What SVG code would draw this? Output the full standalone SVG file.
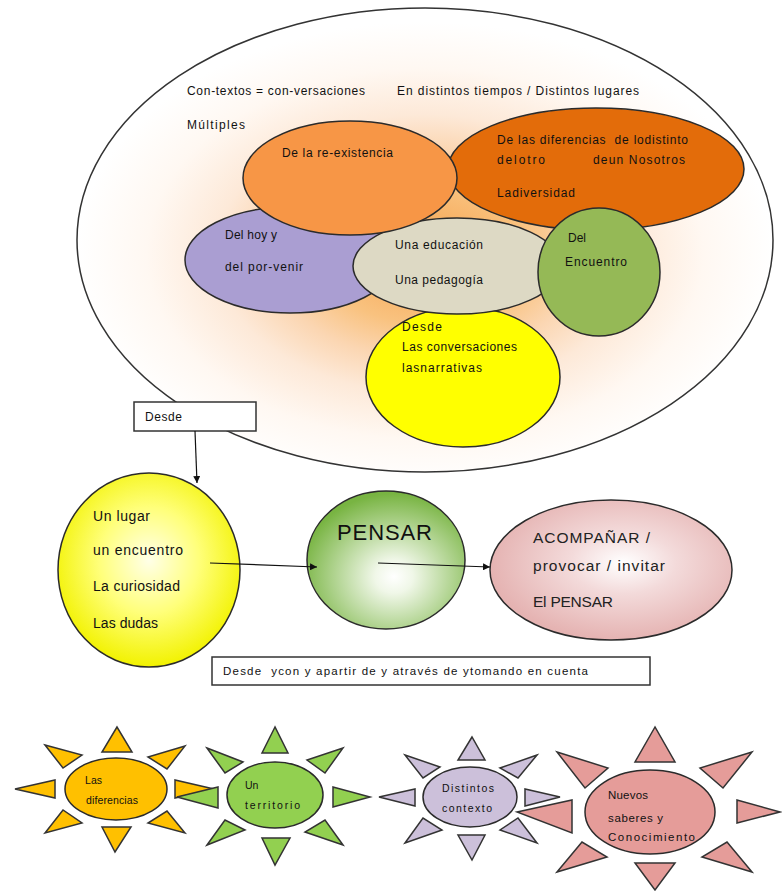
<svg xmlns="http://www.w3.org/2000/svg" width="782" height="892" viewBox="0 0 782 892">
<defs>
<style>
.t{font-family:"Liberation Sans",Arial,sans-serif;fill:#111;white-space:pre}
.s{font-size:12px}
.m{font-size:14px}
.p{font-size:15.5px;fill:#222}
.x{font-size:10.5px}
.x4{font-size:11.5px}
.node{stroke:#2b2b2b;stroke-width:1.5}
.ray{stroke:#333;stroke-width:1.5;stroke-linejoin:miter}
.box{fill:#fff;stroke:#333;stroke-width:1.5}
.conn{stroke:#111;stroke-width:1.2;fill:none;marker-end:url(#ah)}
</style>
<radialGradient id="gBig" cx="0.5" cy="0.53" r="0.5">
<stop offset="0" stop-color="#f6a04a"/>
<stop offset="0.3" stop-color="#f9c27f"/>
<stop offset="0.45" stop-color="#fbd6b2"/>
<stop offset="0.6" stop-color="#fde9d8"/>
<stop offset="0.8" stop-color="#fff8f2"/>
<stop offset="1" stop-color="#ffffff"/>
</radialGradient>
<radialGradient id="gYel" cx="0.5" cy="0.45" r="0.55">
<stop offset="0" stop-color="#ffffe8"/>
<stop offset="0.5" stop-color="#ffff7a"/>
<stop offset="1" stop-color="#f2f200"/>
</radialGradient>
<radialGradient id="gPen" cx="0.55" cy="0.62" r="0.6">
<stop offset="0" stop-color="#ffffff"/>
<stop offset="0.2" stop-color="#f0f7e8"/>
<stop offset="1" stop-color="#78b442"/>
</radialGradient>
<radialGradient id="gPink" cx="0.55" cy="0.45" r="0.55">
<stop offset="0" stop-color="#ffffff"/>
<stop offset="0.4" stop-color="#f3dada"/>
<stop offset="1" stop-color="#e5b3b2"/>
</radialGradient>
<marker id="ah" markerUnits="userSpaceOnUse" markerWidth="8" markerHeight="7" refX="7" refY="3.5" orient="auto">
<path d="M0,0 L7,3.5 L0,7 z" fill="#111"/>
</marker>
</defs>
<rect width="782" height="892" fill="#ffffff"/>

<g id="contextos">
<ellipse cx="425" cy="240" rx="348" ry="232" fill="url(#gBig)" stroke="#333" stroke-width="1.5"/>
<text class="t s" x="187" y="95" textLength="178" lengthAdjust="spacing">Con-textos = con-versaciones</text>
<text class="t s" x="397" y="95" textLength="242" lengthAdjust="spacing">En distintos tiempos / Distintos lugares</text>
<text class="t s" x="187" y="129" textLength="58" lengthAdjust="spacing">Múltiples</text>
</g>

<g id="conversaciones">
<ellipse class="node" cx="463" cy="377" rx="97" ry="70" fill="#ffff00"/>
<text class="t s" x="402" y="331" textLength="40" lengthAdjust="spacing">Desde</text>
<text class="t s" x="402" y="351" textLength="115" lengthAdjust="spacing">Las conversaciones</text>
<text class="t s" x="402" y="372" textLength="80" lengthAdjust="spacing">lasnarrativas</text>
</g>

<g id="diferencias">
<ellipse class="node" cx="596" cy="169" rx="148" ry="61" fill="#e36c0a"/>
<text class="t s" x="497" y="144" textLength="191" lengthAdjust="spacing" xml:space="preserve">De las diferencias  de lodistinto</text>
<text class="t s" x="497" y="164" textLength="48" lengthAdjust="spacing">delotro</text>
<text class="t s" x="593" y="164" textLength="92" lengthAdjust="spacing">deun Nosotros</text>
<text class="t s" x="497" y="197" textLength="78" lengthAdjust="spacing">Ladiversidad</text>
</g>

<g id="porvenir">
<ellipse class="node" cx="290" cy="260" rx="105" ry="53" fill="#aa9ed2"/>
<text class="t s" x="225" y="239" textLength="52" lengthAdjust="spacing">Del hoy y</text>
<text class="t s" x="225" y="271" textLength="78" lengthAdjust="spacing">del por-venir</text>
</g>

<g id="educacion">
<ellipse class="node" cx="457" cy="266" rx="104" ry="48" fill="#ddd9c4"/>
<text class="t s" x="395" y="249" textLength="88" lengthAdjust="spacing">Una educación</text>
<text class="t s" x="395" y="284" textLength="88" lengthAdjust="spacing">Una pedagogía</text>
</g>

<g id="reexistencia">
<ellipse class="node" cx="350" cy="178" rx="107" ry="57" fill="#f79646"/>
<text class="t s" x="282" y="157" textLength="111" lengthAdjust="spacing">De la re-existencia</text>
</g>

<g id="encuentro">
<ellipse class="node" cx="599" cy="272" rx="61" ry="64" fill="#95b956"/>
<text class="t s" x="568" y="242">Del</text>
<text class="t s" x="565" y="266" textLength="62" lengthAdjust="spacing">Encuentro</text>
</g>

<g id="desde-box">
<rect class="box" x="134" y="402" width="122" height="29"/>
<text class="t s" x="145" y="421" textLength="37" lengthAdjust="spacing">Desde</text>
</g>

<g id="lugar">
<ellipse class="node" cx="149" cy="570" rx="91" ry="97" fill="url(#gYel)"/>
<text class="t m" x="93" y="521" textLength="57" lengthAdjust="spacing">Un lugar</text>
<text class="t m" x="93" y="555" textLength="90" lengthAdjust="spacing">un encuentro</text>
<text class="t m" x="93" y="591" textLength="87" lengthAdjust="spacing">La curiosidad</text>
<text class="t m" x="93" y="628" textLength="65" lengthAdjust="spacing">Las dudas</text>
</g>

<g id="pensar">
<ellipse class="node" cx="386" cy="560" rx="79" ry="69" fill="url(#gPen)"/>
<text class="t" x="337" y="540" font-size="22" textLength="95" lengthAdjust="spacing" fill="#1e1e1e">PENSAR</text>
</g>

<g id="acompanar">
<ellipse class="node" cx="611" cy="570" rx="121" ry="70" fill="url(#gPink)"/>
<text class="t p" x="533" y="543" textLength="117" lengthAdjust="spacing">ACOMPAÑAR /</text>
<text class="t p" x="533" y="571" textLength="132" lengthAdjust="spacing">provocar / invitar</text>
<text class="t p" x="533" y="607" textLength="80" lengthAdjust="spacing">El PENSAR</text>
</g>

<g id="desde-bottom">
<rect class="box" x="212" y="657" width="438" height="28"/>
<text class="t" x="223" y="675" font-size="11.5" textLength="365" lengthAdjust="spacing" xml:space="preserve">Desde  ycon y apartir de y através de ytomando en cuenta</text>
</g>

<g id="connectors">
<line class="conn" x1="195" y1="431" x2="197" y2="483"/>
<line class="conn" x1="210" y1="563" x2="317" y2="567"/>
<line class="conn" x1="378" y1="563" x2="490" y2="567"/>
</g>

<g id="sun-diferencias" fill="#ffc000">
<g class="ray">
<polygon points="117,727 102,752 132,752"/>
<polygon points="102,827 131,827 115,852"/>
<polygon points="15,789 55,780 55,798"/>
<polygon points="175,780 175,798 214,789"/>
<polygon points="45,745 82,755 63,768"/>
<polygon points="185,746 148,757 167,769"/>
<polygon points="45,833 63,810 82,823"/>
<polygon points="185,833 167,811 148,823"/>
</g>
<ellipse class="node" cx="116" cy="789" rx="51" ry="31"/>
<text class="t x" x="85" y="784" textLength="17" lengthAdjust="spacing">Las</text>
<text class="t x" x="86" y="804" textLength="52" lengthAdjust="spacing">diferencias</text>
</g>

<g id="sun-territorio" fill="#92d050">
<g class="ray">
<polygon points="275,727 262,753 288,753"/>
<polygon points="262,838 290,838 275,865"/>
<polygon points="177,797 218,787 218,808"/>
<polygon points="333,787 333,807 370,797"/>
<polygon points="207,748 243,762 225,773"/>
<polygon points="343,748 307,760 325,773"/>
<polygon points="207,845 225,820 245,830"/>
<polygon points="343,845 325,820 305,832"/>
</g>
<ellipse class="node" cx="275" cy="795" rx="48" ry="33"/>
<text class="t x" x="245" y="789">Un</text>
<text class="t x" x="245" y="809" textLength="55" lengthAdjust="spacing">territorio</text>
</g>

<g id="sun-contexto" fill="#ccc0da">
<g class="ray">
<polygon points="472,737 458,760 485,760"/>
<polygon points="458,835 485,835 472,860"/>
<polygon points="379,797 415,789 415,806"/>
<polygon points="525,789 525,806 560,797"/>
<polygon points="405,755 440,767 423,778"/>
<polygon points="537,755 500,768 518,778"/>
<polygon points="405,843 423,818 442,830"/>
<polygon points="537,843 518,818 500,830"/>
</g>
<ellipse class="node" cx="470" cy="797" rx="47" ry="30"/>
<text class="t x" x="442" y="792" textLength="52" lengthAdjust="spacing">Distintos</text>
<text class="t x" x="442" y="812" textLength="50" lengthAdjust="spacing">contexto</text>
</g>

<g id="sun-saberes" fill="#e59c99">
<g class="ray">
<polygon points="655,727 635,762 675,762"/>
<polygon points="635,863 675,863 655,890"/>
<polygon points="517,812 572,800 572,833"/>
<polygon points="737,800 737,823 780,812"/>
<polygon points="557,752 608,768 585,788"/>
<polygon points="752,752 700,768 723,788"/>
<polygon points="557,872 582,842 607,857"/>
<polygon points="752,872 727,842 702,857"/>
</g>
<ellipse class="node" cx="650" cy="812" rx="65" ry="42"/>
<text class="t x4" x="608" y="799" textLength="40" lengthAdjust="spacing">Nuevos</text>
<text class="t x4" x="608" y="822" textLength="55" lengthAdjust="spacing">saberes y</text>
<text class="t x4" x="608" y="841" textLength="87" lengthAdjust="spacing">Conocimiento</text>
</g>
</svg>
